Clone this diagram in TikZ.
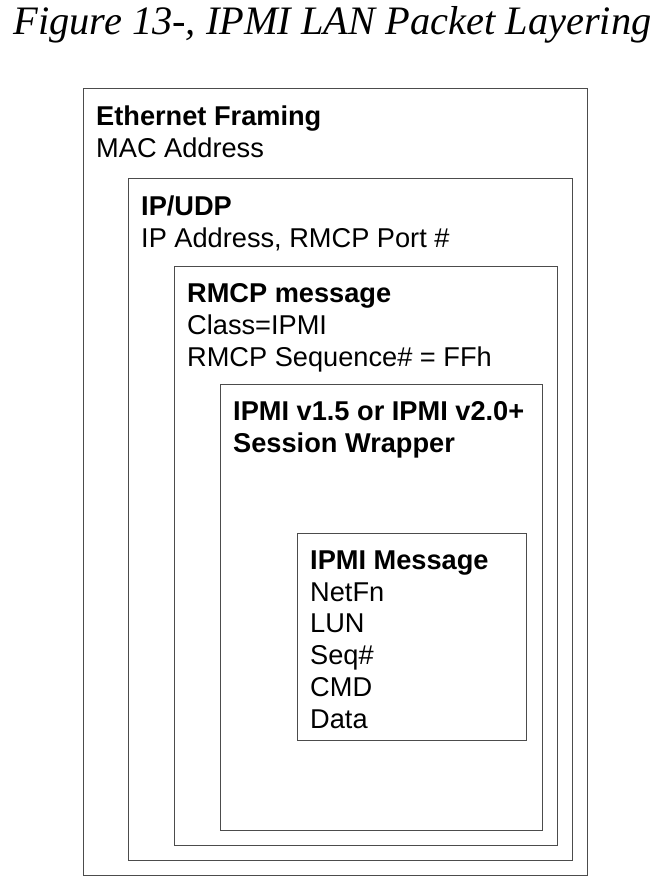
\documentclass[tikz,border=0pt]{standalone}
\usepackage{fontspec}
\setmainfont{Liberation Sans}
\newfontfamily\figtitlefont{Liberation Serif}
\usetikzlibrary{positioning, calc}

\begin{document}
\begin{tikzpicture}[x=1pt, y=-1pt,
  layer/.style={draw=black!70, line width=0.9pt, anchor=north west,
    inner sep=0pt, outer sep=0pt},
  lbl/.style={anchor=north west, inner sep=0pt, align=left,
    font=\fontsize{27.2}{31.7}\selectfont}
]
\useasboundingbox (0,0) rectangle (659,893);
\node[anchor=base, font=\figtitlefont\itshape\fontsize{40.4}{48}\selectfont] (title) at (332.5,35) {Figure 13-, IPMI LAN Packet Layering};
% nested layers, outermost first
\node[layer, minimum width=504pt, minimum height=787pt] (eth) at (83,88) {};
\node[layer, minimum width=444pt, minimum height=682pt] (ip) at (128,178) {};
\node[layer, minimum width=383pt, minimum height=579pt] (rmcp) at (174,266) {};
\node[layer, minimum width=322pt, minimum height=446pt] (sess) at (220,384) {};
\node[layer, minimum width=229pt, minimum height=207pt] (msg) at (297,533) {};
% labels
\node[lbl] (ethtxt) at ($(eth.north west)+(13,17.6)$) {\textbf{Ethernet Framing}\\MAC Address};
\node[lbl] (iptxt) at ($(ip.north west)+(13,17.6)$) {\textbf{IP/UDP}\\IP Address, RMCP Port \#};
\node[lbl] (rmcptxt) at ($(rmcp.north west)+(13,17.6)$) {\textbf{RMCP message}\\Class=IPMI\\RMCP Sequence\# = FFh};
\node[lbl] (sesstxt) at ($(sess.north west)+(13,17.6)$) {\textbf{IPMI v1.5 or IPMI v2.0+}\\\textbf{Session Wrapper}};
\node[lbl] (msgtxt) at ($(msg.north west)+(13,17.6)$) {\textbf{IPMI Message}\\NetFn\\LUN\\Seq\#\\CMD\\Data};
\end{tikzpicture}
\end{document}
